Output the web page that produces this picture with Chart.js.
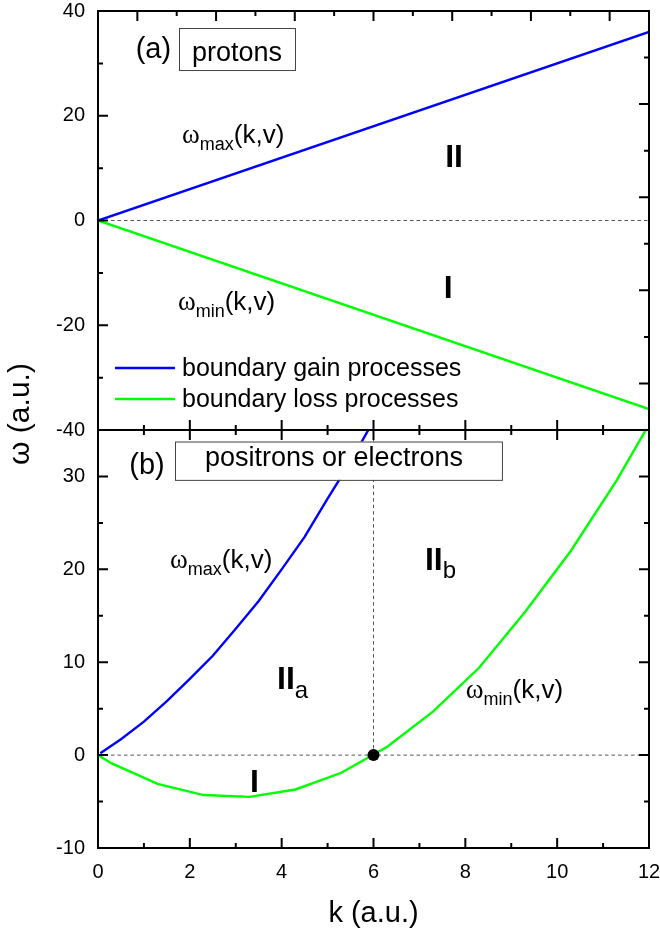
<!DOCTYPE html>
<html>
<head>
<meta charset="utf-8">
<script src="https://cdn.jsdelivr.net/npm/chart.js@4.4.1/dist/chart.umd.min.js"></script>
<style>
  html, body { margin: 0; padding: 0; background: #fff; }
  #wrap { position: relative; width: 660px; height: 939px; }
  #wrap canvas { position: absolute; left: 0; top: 0; }
</style>
</head>
<body>
<div id="wrap">
  <canvas id="chartBottom" width="660" height="939"></canvas>
  <canvas id="chartTop" width="660" height="939"></canvas>
</div>
<script>
// shared x axis, k (a.u.)
const kRange = [0, 12];
const kTicks = [0, 2, 4, 6, 8, 10, 12];

// (a) protons
const topRange = [-40, 40];
const topTicks = [-40, -20, 0, 20, 40];
const protonK = [0, 12];
const protonMax = [0, 36];
const protonMin = [0, -36];

// (b) positrons or electrons
const bottomRange = [-10, 35];
const bottomTicks = [-10, 0, 10, 20, 30];
const leptonMaxK = [0.05, 0.5, 1, 1.5, 2, 2.5, 3, 3.5, 4, 4.5, 5, 5.5, 6, 6.3];
const leptonMax = [0.2, 1.7, 3.6, 5.8, 8.2, 10.7, 13.6, 16.6, 20, 23.5, 27.6, 31.6, 36, 38.8];
const leptonMinK = [0, 0.3, 1.3, 2.3, 3.3, 4.3, 5.3, 6.3, 7.3, 8.3, 9.3, 10.3, 11.3, 12];
const leptonMin = [0, -0.9, -3.1, -4.3, -4.5, -3.7, -1.9, 0.9, 4.7, 9.4, 15.4, 22.0, 29.6, 35.6];
const crossing = [6, 0];

const SANS = "'Liberation Sans', Arial, sans-serif";
const SERIF = "'Liberation Serif', 'Times New Roman', serif";
const BLUE = '#0000ff';
const GREEN = '#00ff00';

const omega = (sub, k, w) => ({ k, w, runs: [
    { t: 'ω', size: 27, serif: true },
    { t: sub, size: 18, dy: 7 },
    { t: '(k,v)', size: 26 }
]});

const topNotes = {
    labels: [
        { k: 0.82, w: 31.1, runs: [{ t: '(a)', size: 29 }] },
        omega('max', 1.83, 14.8),
        omega('min', 1.74, -17.1),
        { k: 7.56, w: 10.2, runs: [{ t: 'II', size: 32, bold: true }] },
        { k: 7.53, w: -14.8, runs: [{ t: 'I', size: 32, bold: true }] }
    ],
    boxes: [{ rect: [1.764, 4.29, 36.75, 28.73], k: 2.047, w: 30.45, text: 'protons', size: 27 }],
    legend: { k: 0.37, w: -28.16, rowGap: 31, lineLen: 60, size: 25 }
};

const bottomNotes = {
    labels: [
        { k: 0.68, w: 30.3, runs: [{ t: '(b)', size: 29 }] },
        omega('max', 1.568, 20.15),
        { k: 3.90, w: 7.11, runs: [{ t: 'II', size: 32, bold: true }, { t: 'a', size: 24, dy: 9 }] },
        { k: 3.31, w: -3.99, runs: [{ t: 'I', size: 32, bold: true }] },
        { k: 7.12, w: 19.9, runs: [{ t: 'II', size: 32, bold: true }, { t: 'b', size: 24, dy: 8 }] },
        omega('min', 8.01, 6.14)
    ],
    boxes: [{ rect: [1.677, 8.797, 33.76, 29.63], k: 2.33, w: 31.14, text: 'positrons or electrons', size: 27 }],
    yTitle: { text: 'ω (a.u.)', x: 21, y: 414, size: 30 }
};

Chart.defaults.font.family = SANS;
Chart.defaults.color = '#000';

function pts(xs, ys) {
    return xs.map((x, i) => ({ x: x, y: ys[i] }));
}

function curve(label, xs, ys, color) {
    return { label, data: pts(xs, ys), borderColor: color, borderWidth: 2.4, pointRadius: 0, inLegend: true };
}

function dashed(data) {
    return { data, borderColor: '#555', borderWidth: 1, borderDash: [3.5, 3], pointRadius: 0 };
}

function drawRuns(ctx, x, y, runs) {
    let cx = x;
    runs.forEach(r => {
        ctx.font = (r.bold ? 'bold ' : '') + r.size + 'px ' + (r.serif ? SERIF : SANS);
        ctx.fillText(r.t, cx, y + (r.dy || 0));
        cx += ctx.measureText(r.t).width;
    });
}

function midpoints(vals) {
    const out = [];
    for (let i = 1; i < vals.length; i++) out.push((vals[i - 1] + vals[i]) / 2);
    return out;
}

// frame with inward ticks on all four sides
const panelFrame = {
    id: 'panelFrame',
    afterDatasetsDraw(chart, args, opts) {
        const { ctx, chartArea: a, scales: { x, y } } = chart;
        const MAJ = 10, MIN = 5;
        ctx.save();
        ctx.strokeStyle = '#000';
        ctx.lineWidth = 2;
        ctx.beginPath();
        const tick = (x0, y0, dx, dy) => { ctx.moveTo(x0, y0); ctx.lineTo(x0 + dx, y0 + dy); };

        kTicks.forEach(v => tick(x.getPixelForValue(v), a.bottom, 0, -MAJ));
        midpoints(kTicks).forEach(v => tick(x.getPixelForValue(v), a.bottom, 0, -MIN));

        const yt = opts.yTicks;
        yt.forEach(v => tick(a.left, y.getPixelForValue(v), MAJ, 0));
        midpoints(yt).forEach(v => tick(a.left, y.getPixelForValue(v), MIN, 0));

        if (opts.topDivisions) {
            // twin axes of the upper panel use their own spacing
            const n = opts.topDivisions, w = (a.right - a.left) / n;
            for (let i = 1; i < n; i++) tick(a.left + i * w, a.top, 0, i % 2 ? MAJ : MIN);
            const m = opts.rightDivisions, h = (a.bottom - a.top) / m;
            for (let i = 1; i < m; i++) tick(a.right, a.top + i * h, i % 2 ? -MIN : -MAJ, 0);
        } else {
            kTicks.forEach(v => tick(x.getPixelForValue(v), a.top, 0, MAJ));
            midpoints(kTicks).forEach(v => tick(x.getPixelForValue(v), a.top, 0, MIN));
            yt.forEach(v => tick(a.right, y.getPixelForValue(v), -MAJ, 0));
            midpoints(yt).forEach(v => tick(a.right, y.getPixelForValue(v), -MIN, 0));
        }
        ctx.stroke();
        ctx.strokeRect(a.left, a.top, a.right - a.left, a.bottom - a.top);
        ctx.restore();
    },
    afterDraw(chart, args, opts) {
        const { ctx, scales: { x, y } } = chart;
        const notes = opts.notes;
        const px = k => x.getPixelForValue(k);
        const py = w => y.getPixelForValue(w);
        ctx.save();
        ctx.fillStyle = '#000';
        ctx.textBaseline = 'alphabetic';
        ctx.textAlign = 'left';

        notes.boxes.forEach(b => {
            const [k0, k1, w0, w1] = b.rect;
            ctx.fillStyle = '#fff';
            ctx.fillRect(px(k0), py(w0), px(k1) - px(k0), py(w1) - py(w0));
            ctx.strokeStyle = '#444';
            ctx.lineWidth = 1;
            ctx.strokeRect(px(k0) + 0.5, py(w0) + 0.5, px(k1) - px(k0), py(w1) - py(w0));
            ctx.fillStyle = '#000';
            ctx.font = b.size + 'px ' + SANS;
            ctx.fillText(b.text, px(b.k), py(b.w));
        });

        notes.labels.forEach(l => drawRuns(ctx, px(l.k), py(l.w), l.runs));

        if (notes.legend) {
            const lg = notes.legend;
            const x0 = px(lg.k);
            let y0 = py(lg.w);
            chart.data.datasets.filter(d => d.inLegend).forEach(d => {
                ctx.strokeStyle = d.borderColor;
                ctx.lineWidth = 2.4;
                ctx.beginPath();
                ctx.moveTo(x0, y0);
                ctx.lineTo(x0 + lg.lineLen, y0);
                ctx.stroke();
                ctx.font = lg.size + 'px ' + SANS;
                ctx.fillText(d.label, x0 + lg.lineLen + 7, y0 + 8);
                y0 += lg.rowGap;
            });
        }

        if (notes.yTitle) {
            const t = notes.yTitle;
            ctx.translate(t.x, t.y);
            ctx.rotate(-Math.PI / 2);
            ctx.textAlign = 'center';
            ctx.textBaseline = 'middle';
            ctx.font = t.size + 'px ' + SANS;
            ctx.fillText(t.text, 0, 0);
        }
        ctx.restore();
    }
};

function yScale(range, ticks) {
    return {
        type: 'linear',
        min: range[0],
        max: range[1],
        grid: { display: false, drawTicks: false },
        border: { display: false },
        ticks: { font: { size: 20 }, padding: 13, callback: v => String(v) },
        afterBuildTicks: s => { s.ticks = ticks.map(v => ({ value: v })); },
        afterFit: s => { s.width = 98; s.paddingTop = 0; s.paddingBottom = 0; }
    };
}

function makeChart(id, datasets, xOpts, yOpts, padding, frameOpts) {
    return new Chart(document.getElementById(id), {
        type: 'line',
        data: { datasets },
        options: {
            responsive: false,
            animation: false,
            layout: { padding },
            plugins: { legend: { display: false }, tooltip: { enabled: false }, panelFrame: frameOpts },
            scales: { x: xOpts, y: yOpts }
        },
        plugins: [panelFrame]
    });
}

makeChart('chartTop', [
    curve('boundary gain processes', protonK, protonMax, BLUE),
    curve('boundary loss processes', protonK, protonMin, GREEN),
    dashed([{ x: kRange[0], y: 0 }, { x: kRange[1], y: 0 }])
], {
    type: 'linear', min: kRange[0], max: kRange[1], display: false
}, yScale(topRange, topTicks),
{ left: 0, right: 11, top: 11, bottom: 509 },
{ yTicks: topTicks, topDivisions: 14, rightDivisions: 9, notes: topNotes });

makeChart('chartBottom', [
    { data: [{ x: crossing[0], y: crossing[1] }], showLine: false, pointRadius: 6,
      pointBackgroundColor: '#000', pointBorderColor: '#000', borderWidth: 0 },
    curve('ω_max', leptonMaxK, leptonMax, BLUE),
    curve('ω_min', leptonMinK, leptonMin, GREEN),
    dashed([{ x: kRange[0], y: 0 }, { x: kRange[1], y: 0 }]),
    dashed([{ x: crossing[0], y: crossing[1] }, { x: crossing[0], y: bottomRange[1] }])
], {
    type: 'linear', min: kRange[0], max: kRange[1],
    grid: { display: false, drawTicks: false },
    border: { display: false },
    ticks: { font: { size: 20 }, padding: 12, maxRotation: 0 },
    afterBuildTicks: s => { s.ticks = kTicks.map(v => ({ value: v })); },
    afterFit: s => { s.height = 91; s.paddingLeft = 0; s.paddingRight = 0; },
    title: { display: true, text: 'k (a.u.)', font: { size: 29 }, padding: { top: 0, bottom: 8 } }
}, yScale(bottomRange, bottomTicks),
{ left: 0, right: 11, top: 430, bottom: 0 },
{ yTicks: bottomTicks, notes: bottomNotes });
</script>
</body>
</html>
